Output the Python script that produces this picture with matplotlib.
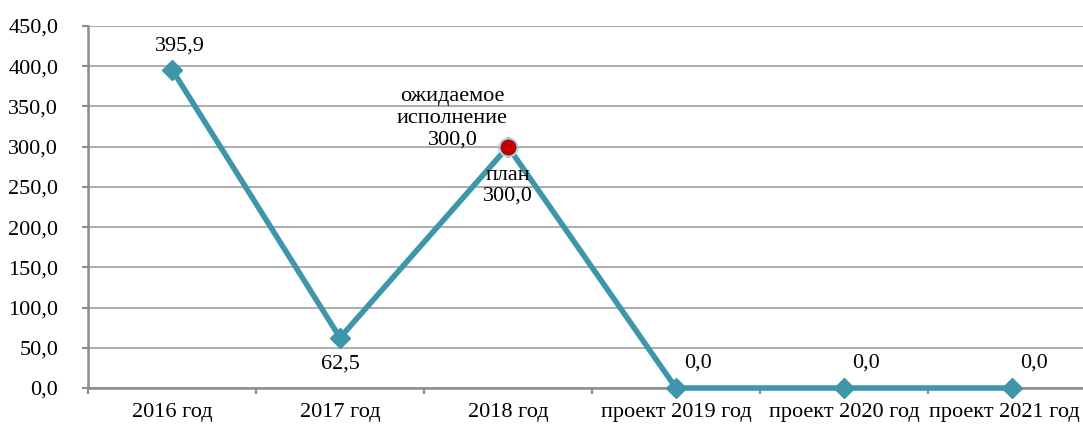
import matplotlib
matplotlib.use("Agg")
import matplotlib.pyplot as plt
from matplotlib.ticker import FuncFormatter, MultipleLocator
from matplotlib.transforms import ScaledTranslation

plt.rcParams["font.family"] = ["Liberation Serif", "DejaVu Serif"]

years = ["2016 год", "2017 год", "2018 год", "проект 2019 год",
         "проект 2020 год", "проект 2021 год"]
values = [395.9, 62.5, 300.0, 0.0, 0.0, 0.0]
expected_2018 = 300.0

W, H = 1083, 425
fig = plt.figure(figsize=(W / 100, H / 100), dpi=100)
ax = fig.add_axes([88 / W, 1 - 388 / H, 1 - 88 / W, (388 - 26) / H])

line_c = "#3E96AB"
x = list(range(len(years)))
ax.plot(x, values, color=line_c, lw=4, marker="D", ms=10, mfc=line_c,
        mec=line_c, zorder=3, clip_on=False)
ax.plot([2], [expected_2018], "o", ms=13, mfc="#C00000", mec="#A9D3E0",
        mew=1.5, zorder=4)

ax.set_xlim(-0.5, (W - 88) / 168 - 0.5)
ax.set_ylim(0, 450)
ax.yaxis.set_major_locator(MultipleLocator(50))
ax.yaxis.set_major_formatter(FuncFormatter(lambda v, p: f"{v:.1f}".replace(".", ",")))
ax.grid(axis="y", color="#A6A6A6", lw=1.3)
ax.set_axisbelow(True)
for s in ["top", "right"]:
    ax.spines[s].set_visible(False)
for s in ["left", "bottom"]:
    ax.spines[s].set_color("#8C8C8C")
    ax.spines[s].set_linewidth(1.8)

fs = 16
ax.set_xticks(x)
ax.set_xticklabels(years)
ax.set_xticks([i - 0.5 for i in range(len(years))], minor=True)
ax.tick_params(axis="x", which="major", length=0, pad=11, labelsize=fs)
ax.tick_params(axis="x", which="minor", length=4.5, color="#8C8C8C", width=1.5)
ax.tick_params(axis="y", length=4.5, color="#8C8C8C", width=1.5, labelsize=fs,
               pad=17)
# last label is pushed left a little so it fits in the frame
last = ax.get_xticklabels()[-1]
last.set_transform(last.get_transform() +
                   ScaledTranslation(-8 / 100, 0, fig.dpi_scale_trans))

fmt = lambda v: f"{v:.1f}".replace(".", ",")
ax.annotate(fmt(values[0]), (0, values[0]), xytext=(6, 10),
            textcoords="offset points", ha="center", va="bottom", fontsize=fs)
ax.annotate(fmt(values[1]), (1, values[1]), xytext=(0, -12),
            textcoords="offset points", ha="center", va="top", fontsize=fs)
ax.annotate("ожидаемое\nисполнение\n" + fmt(expected_2018), (2, expected_2018),
            xytext=(-40, -2), textcoords="offset points", ha="center",
            va="bottom", fontsize=fs, linespacing=1.2)
ax.annotate("план\n" + fmt(values[2]), (2, values[2]), xytext=(0, -14),
            textcoords="offset points", ha="center", va="top", fontsize=fs,
            linespacing=1.1)
for i in range(3, 6):
    ax.annotate(fmt(values[i]), (i, values[i]), xytext=(16, 11),
                textcoords="offset points", ha="center", va="bottom",
                fontsize=fs)

fig.savefig("out.png", dpi=100)
